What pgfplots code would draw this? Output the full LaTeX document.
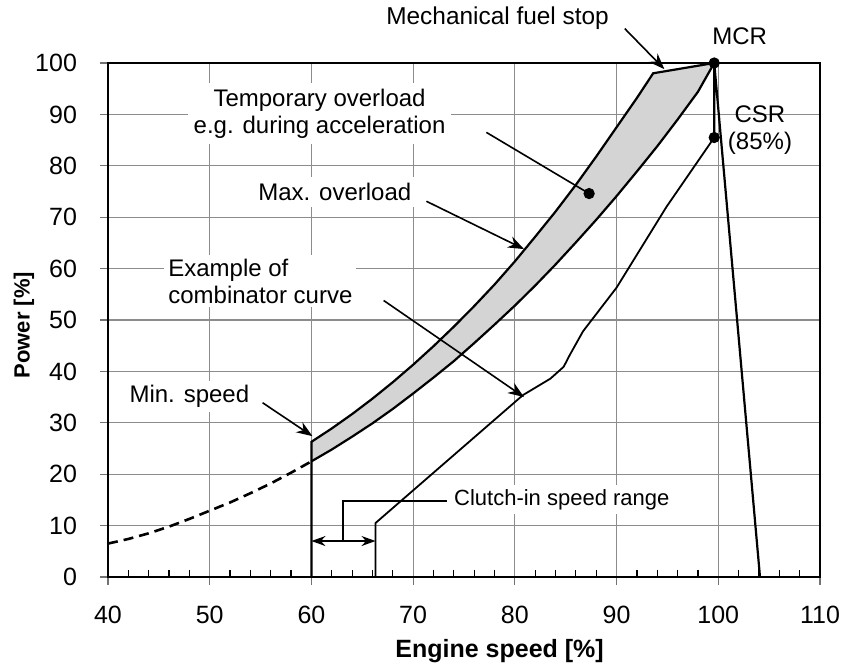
\documentclass[border=0pt]{standalone}
\usepackage{fontspec}
\setmainfont{Liberation Sans}
\usepackage{pgfplots}
\pgfplotsset{compat=1.18}
\usetikzlibrary{arrows.meta,calc}

\newcommand{\annfont}{\fontsize{12}{13.5}\selectfont}

\begin{document}
\begin{tikzpicture}
\begin{axis}[
  name=ax,
  scale only axis,
  width=356pt, height=257pt,
  xmin=40, xmax=110, ymin=0, ymax=100,
  xtick={40,50,...,110}, ytick={0,10,...,100},
  minor x tick num=4,
  grid=major,
  major grid style={black!45, line width=0.6pt},
  axis line style={black, line width=1pt},
  tick align=outside,
  major tick length=4pt,
  minor tick length=3.5pt,
  tick style={black!55, line width=0.6pt},
  minor x tick style={yshift=3.5pt, black, line width=0.6pt},
  xtick pos=bottom, ytick pos=left,
  /pgf/number format/assume math mode=true,
  ticklabel style={font=\fontsize{12.5}{14}\selectfont},
  yticklabel style={xshift=-8pt},
  xticklabel style={yshift=-7pt},
  clip=false,
]
% shaded band between max overload and propeller curve
\addplot[fill=black!17, draw=none] coordinates {
 (60,26.3) (62,28.9) (64,31.7) (66,34.7) (68,37.9) (70,41.3) (72,44.9)
 (74,48.7) (76,52.7) (78,56.9) (80,61.4) (82,66.2) (84,71.1) (86,76.3)
 (88,81.8) (90,87.5) (92,93.2) (93.6,98.0) (99.6,100)
 (98,94.4) (96,89.0) (94,83.8) (92,78.9) (90,74.1) (88,69.5) (86,65.1)
 (84,60.8) (82,56.7) (80,52.8) (78,49.1) (76,45.5) (74,42.0) (72,38.8)
 (70,35.7) (68,32.7) (66,29.9) (64,27.3) (62,24.8) (60,22.5)
} -- cycle;
% propeller curve (dashed part)
\addplot[black, line width=1.3pt, dash pattern=on 5pt off 3pt] coordinates {
 (40,6.5) (42,7.4) (44,8.5) (46,9.8) (48,11.3) (50,12.9) (52,14.5)
 (54,16.3) (56,18.2) (58,20.3) (60,22.5)
};
% propeller curve (solid part)
\addplot[black, line width=1.1pt] coordinates {
 (60,22.5) (62,24.8) (64,27.3) (66,29.9) (68,32.7) (70,35.7) (72,38.8)
 (74,42.0) (76,45.5) (78,49.1) (80,52.8) (82,56.7) (84,60.8) (86,65.1)
 (88,69.5) (90,74.1) (92,78.9) (94,83.8) (96,89.0) (98,94.4) (99.6,100)
};
% min speed + max overload line + fuel stop
\addplot[black, line width=1.1pt] coordinates {
 (60,0) (60,26.3) (62,28.9) (64,31.7) (66,34.7) (68,37.9) (70,41.3) (72,44.9)
 (74,48.7) (76,52.7) (78,56.9) (80,61.4) (82,66.2) (84,71.1) (86,76.3)
 (88,81.8) (90,87.5) (92,93.2) (93.6,98.0) (99.6,100)
};
% MCR - CSR vertical and speed limit line
\addplot[black, line width=1.1pt] coordinates {(99.6,85.5) (99.6,100) (104.1,0)};
% combinator curve
\addplot[black, line width=0.9pt] coordinates {
 (66.3,0) (66.3,10.5) (80.8,35.4) (83.5,38.6) (84.8,40.9) (85.4,43.2)
 (86.7,47.8) (90,56.3) (94.9,72) (99.6,85.5)
};
% dots
\addplot[only marks, mark=*, mark size=2.6pt, black] coordinates {(99.6,100) (99.6,85.5) (87.3,74.6)};
% clutch-in range
\addplot[black, line width=0.8pt, {Stealth[length=7pt,width=5pt]}-{Stealth[length=7pt,width=5pt]}] coordinates {(60,7) (66.3,7)};
\addplot[black, line width=0.8pt] coordinates {(63.1,7) (63.1,14.8) (73.3,14.8)};

% text labels
\node[fill=white, inner sep=2pt, font=\fontsize{12.2}{14}\selectfont] at (axis cs:78.3,108.8) {Mechanical fuel stop};
\node[font=\annfont] at (axis cs:102.1,105.3) {MCR};
\node[font=\annfont, align=center] at (axis cs:104.1,86.9) {CSR\\(85\%)};
\node[fill=white, inner sep=3pt, font=\annfont, align=center] at (axis cs:60.8,90.2) {Temporary overload\\e.g. during acceleration};
\node[fill=white, inner sep=3pt, font=\annfont] at (axis cs:62.3,74.9) {Max. overload};
\node[fill=white, inner sep=2pt, font=\annfont, align=left, anchor=west] at (axis cs:45.5,57.6) {Example of\\combinator curve};
\node[fill=white, inner sep=2pt, font=\annfont] at (axis cs:48.0,35.1) {Min. speed};
\node[fill=white, inner sep=2pt, font=\fontsize{11}{13}\selectfont, anchor=west] at (axis cs:73.6,15.1) {Clutch-in speed range};

% annotation arrows
\addplot[black, line width=0.8pt, -{Stealth[length=8pt,width=6pt]}] coordinates {(90.8,106.7) (94.7,98.8)};
\addplot[black, line width=0.8pt] coordinates {(77.2,86.5) (87.3,74.6)};
\addplot[black, line width=0.8pt, -{Stealth[length=8pt,width=6pt]}] coordinates {(71.3,73.1) (80.9,63.8)};
\addplot[black, line width=0.8pt, -{Stealth[length=8pt,width=6pt]}] coordinates {(67.1,53.8) (80.9,35.0)};
\addplot[black, line width=0.8pt, -{Stealth[length=8pt,width=6pt]}] coordinates {(55.2,33.9) (60.1,27.4)};
\end{axis}

\node[font=\fontsize{12.5}{15}\selectfont\bfseries] at ($(ax.south west)!0.55!(ax.south east)+(0,-37pt)$) {Engine speed [\%]};
\node[font=\fontsize{11}{13}\selectfont\bfseries, rotate=90] at ($(ax.south west)!0.49!(ax.north west)+(-42pt,0)$) {Power [\%]};

\pgfresetboundingbox
\path ($(ax.south west)+(-54pt,-43pt)$) rectangle ($(ax.north east)+(13pt,31.5pt)$);
\end{tikzpicture}
\end{document}
